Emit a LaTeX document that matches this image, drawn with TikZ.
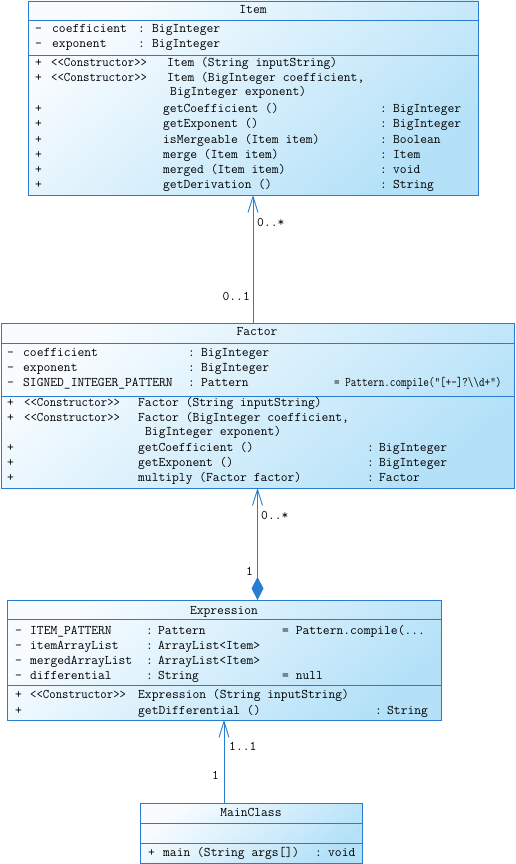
\documentclass[tikz,border=0pt]{standalone}
\usepackage{fontspec}
\usetikzlibrary{arrows.meta,calc}
\newcommand\monof{\ttfamily}
\newcommand\cl[2]{\makebox[#1pt][l]{#2}}
\newcommand\cons{\scalebox{0.94}[1]{<{}<Constructor>{}>}}
\definecolor{uml}{RGB}{40,125,210}
\definecolor{fillA}{RGB}{248,252,255}
\definecolor{fillB}{RGB}{180,225,248}
\begin{document}
\begin{tikzpicture}[x=1pt,y=-1pt,
  cls/.style={draw=uml, line width=0.9pt, inner sep=0, outer sep=0, anchor=north west,
    top color=fillA, bottom color=fillB, shading angle=40},
  sep/.style={draw=uml, line width=0.9pt},
  txt/.style={anchor=base west, inner sep=0, font=\monof\fontsize{13.2}{15}\selectfont},
  ttl/.style={anchor=base, inner sep=0, font=\monof\fontsize{13.2}{15}\selectfont},
  lblr/.style={anchor=base east, inner sep=0, font=\monof\fontsize{13.2}{15}\selectfont},
  conn/.style={draw=uml, line width=0.9pt},
  open/.tip={Straight Barb[length=16pt,width=10pt,line width=0.9pt]},
  dia/.tip={Diamond[length=23pt,width=12pt,fill=uml]}]
\useasboundingbox (0,0) rectangle (515,864);

% ---------- Item ----------
\node[cls, minimum width=450pt, minimum height=194pt] (item) at (28,1) {};
\draw[sep] (item.west |- 0,20.5) -- (item.east |- 0,20.5);
\draw[sep] (item.west |- 0,55) -- (item.east |- 0,55);
\node[ttl] (itemT) at (253,14) {Item};
\node[txt] (ia1) at (35,33) {\cl{17}{-}\cl{86}{coefficient}\cl{14}{:}BigInteger};
\node[txt] (ia2) at (35,48) {\cl{17}{-}\cl{86}{exponent}\cl{14}{:}BigInteger};
\node[txt] (im1) at (35,67) {\cl{16}{+}\cl{116}{\cons}Item (String inputString)};
\node[txt] (im2) at (35,82) {\cl{16}{+}\cl{116}{\cons}Item (BigInteger coefficient,};
\node[txt] (im3) at (170,96) {BigInteger exponent)};
\node[txt] (im4) at (35,113) {\cl{128}{+}\cl{217}{getCoefficient ()}\cl{13}{:}BigInteger};
\node[txt] (im5) at (35,128) {\cl{128}{+}\cl{217}{getExponent ()}\cl{13}{:}BigInteger};
\node[txt] (im6) at (35,143) {\cl{128}{+}\cl{217}{isMergeable (Item item)}\cl{13}{:}Boolean};
\node[txt] (im7) at (35,158) {\cl{128}{+}\cl{217}{merge (Item item)}\cl{13}{:}Item};
\node[txt] (im8) at (35,173) {\cl{128}{+}\cl{217}{merged (Item item)}\cl{13}{:}void};
\node[txt] (im9) at (35,188) {\cl{128}{+}\cl{217}{getDerivation ()}\cl{13}{:}String};

% ---------- Factor ----------
\node[cls, minimum width=513pt, minimum height=165pt] (factor) at (1,323) {};
\draw[sep] (factor.west |- 0,343) -- (factor.east |- 0,343);
\draw[sep] (factor.west |- 0,396) -- (factor.east |- 0,396);
\node[ttl] (factorT) at (257,335) {Factor};
\node[txt] (fa1) at (7,356) {\cl{16}{-}\cl{165}{coefficient}\cl{13}{:}BigInteger};
\node[txt] (fa2) at (7,371) {\cl{16}{-}\cl{165}{exponent}\cl{13}{:}BigInteger};
\node[txt] (fa3) at (7,386) {\cl{16}{-}\cl{165}{SIGNED\_INTEGER\_PATTERN}\cl{13}{:}\cl{133}{Pattern}\scalebox{0.82}[1]{= Pattern.compile("[+-]?\textbackslash\textbackslash d+")}};
\node[txt] (fm1) at (7,406) {\cl{17}{+}\cl{114}{\cons}Factor (String inputString)};
\node[txt] (fm2) at (7,421) {\cl{17}{+}\cl{114}{\cons}Factor (BigInteger coefficient,};
\node[txt] (fm3) at (145,435) {BigInteger exponent)};
\node[txt] (fm4) at (7,451) {\cl{131}{+}\cl{229}{getCoefficient ()}\cl{12}{:}BigInteger};
\node[txt] (fm5) at (7,466) {\cl{131}{+}\cl{229}{getExponent ()}\cl{12}{:}BigInteger};
\node[txt] (fm6) at (7,481) {\cl{131}{+}\cl{229}{multiply (Factor factor)}\cl{12}{:}Factor};

% ---------- Expression ----------
\node[cls, minimum width=434pt, minimum height=120pt] (expr) at (7,600) {};
\draw[sep] (expr.west |- 0,619) -- (expr.east |- 0,619);
\draw[sep] (expr.west |- 0,685) -- (expr.east |- 0,685);
\node[ttl] (exprT) at (224,614) {Expression};
\node[txt] (ea1) at (15,634) {\cl{15}{-}\cl{116}{ITEM\_PATTERN}\cl{12}{:}\cl{124}{Pattern}= Pattern.compile(...};
\node[txt] (ea2) at (15,649) {\cl{15}{-}\cl{116}{itemArrayList}\cl{12}{:}ArrayList<Item>};
\node[txt] (ea3) at (15,664) {\cl{15}{-}\cl{116}{mergedArrayList}\cl{12}{:}ArrayList<Item>};
\node[txt] (ea4) at (15,679) {\cl{15}{-}\cl{116}{differential}\cl{12}{:}\cl{124}{String}= null};
\node[txt] (em1) at (15,698) {\cl{15}{+}\cl{108}{\cons}Expression (String inputString)};
\node[txt] (em2) at (15,714) {\cl{123}{+}\cl{237}{getDifferential ()}\cl{12}{:}String};

% ---------- MainClass ----------
\node[cls, minimum width=222pt, minimum height=60pt] (main) at (140,803) {};
\draw[sep] (main.west |- 0,823) -- (main.east |- 0,823);
\draw[sep] (main.west |- 0,843) -- (main.east |- 0,843);
\node[ttl] (mainT) at (251,816) {MainClass};
\node[txt] (mm1) at (148,856) {\cl{15}{+}\cl{152}{main (String args[])}\cl{13}{:}void};

% ---------- connectors ----------
\draw[conn, -open] (item.south |- factor.north) -- (item.south);
\draw[conn, dia-open] (factor.south |- expr.north) -- (factor.south);
\draw[conn, -open] (expr.south |- main.north) -- (expr.south);

\node[txt] (l1) at (257,226) {0..*};
\node[lblr] (l2) at (250,300) {0..1};
\node[txt] (l3) at (261,519) {0..*};
\node[lblr] (l4) at (253,575) {1};
\node[txt] (l5) at (229,750) {1..1};
\node[lblr] (l6) at (219,779) {1};
\end{tikzpicture}
\end{document}
